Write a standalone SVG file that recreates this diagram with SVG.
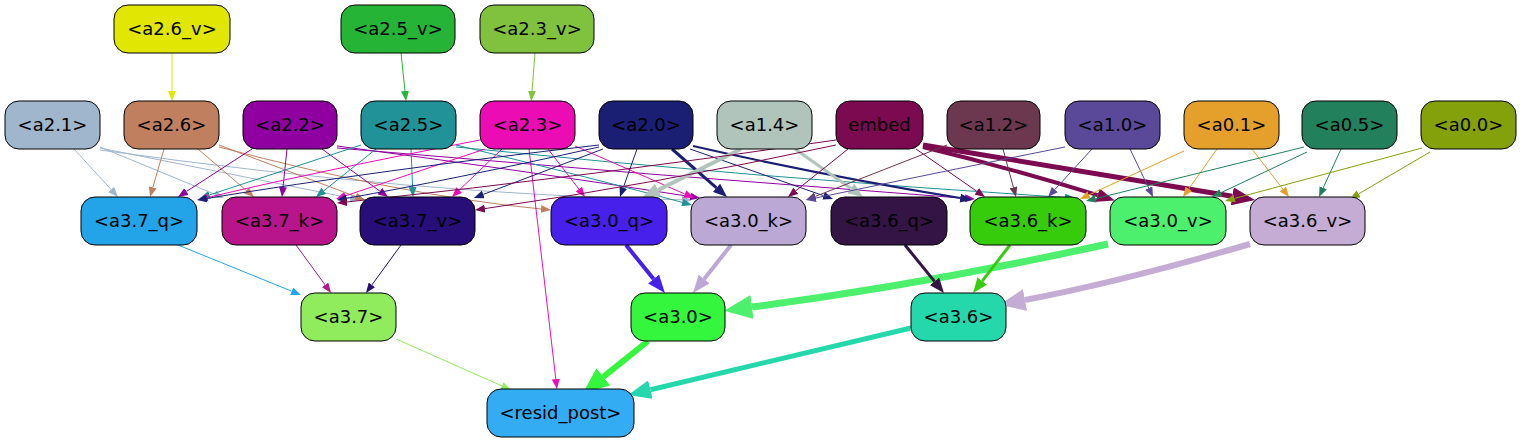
<svg xmlns="http://www.w3.org/2000/svg" width="1521" height="443" viewBox="0 0 1521 443">
<style>
.n{stroke:#000;stroke-width:1}
.t{font-family:"DejaVu Sans","Liberation Sans",sans-serif;font-size:18px;text-anchor:middle;fill:#000}
.e{fill:none}
</style>
<defs>
<marker id="s-a26v" viewBox="0 0 10 8" markerWidth="10" markerHeight="8" refX="0" refY="4" orient="auto" markerUnits="userSpaceOnUse"><path d="M0,0L10,4L0,8z" fill="#e1e602"/></marker>
<marker id="s-a25v" viewBox="0 0 10 8" markerWidth="10" markerHeight="8" refX="0" refY="4" orient="auto" markerUnits="userSpaceOnUse"><path d="M0,0L10,4L0,8z" fill="#26b436"/></marker>
<marker id="s-a23v" viewBox="0 0 10 8" markerWidth="10" markerHeight="8" refX="0" refY="4" orient="auto" markerUnits="userSpaceOnUse"><path d="M0,0L10,4L0,8z" fill="#80c23e"/></marker>
<marker id="s-a21" viewBox="0 0 10 8" markerWidth="10" markerHeight="8" refX="0" refY="4" orient="auto" markerUnits="userSpaceOnUse"><path d="M0,0L10,4L0,8z" fill="#a0b6cc"/></marker>
<marker id="s-a26" viewBox="0 0 10 8" markerWidth="10" markerHeight="8" refX="0" refY="4" orient="auto" markerUnits="userSpaceOnUse"><path d="M0,0L10,4L0,8z" fill="#c08060"/></marker>
<marker id="s-a22" viewBox="0 0 10 8" markerWidth="10" markerHeight="8" refX="0" refY="4" orient="auto" markerUnits="userSpaceOnUse"><path d="M0,0L10,4L0,8z" fill="#9000a0"/></marker>
<marker id="s-a25" viewBox="0 0 10 8" markerWidth="10" markerHeight="8" refX="0" refY="4" orient="auto" markerUnits="userSpaceOnUse"><path d="M0,0L10,4L0,8z" fill="#209298"/></marker>
<marker id="s-a23" viewBox="0 0 10 8" markerWidth="10" markerHeight="8" refX="0" refY="4" orient="auto" markerUnits="userSpaceOnUse"><path d="M0,0L10,4L0,8z" fill="#ec0cb4"/></marker>
<marker id="s-a20" viewBox="0 0 10 8" markerWidth="10" markerHeight="8" refX="0" refY="4" orient="auto" markerUnits="userSpaceOnUse"><path d="M0,0L10,4L0,8z" fill="#1a1f74"/></marker>
<marker id="s-emb" viewBox="0 0 10 8" markerWidth="10" markerHeight="8" refX="0" refY="4" orient="auto" markerUnits="userSpaceOnUse"><path d="M0,0L10,4L0,8z" fill="#7c0a50"/></marker>
<marker id="s-a12" viewBox="0 0 10 8" markerWidth="10" markerHeight="8" refX="0" refY="4" orient="auto" markerUnits="userSpaceOnUse"><path d="M0,0L10,4L0,8z" fill="#6c3850"/></marker>
<marker id="s-a10" viewBox="0 0 10 8" markerWidth="10" markerHeight="8" refX="0" refY="4" orient="auto" markerUnits="userSpaceOnUse"><path d="M0,0L10,4L0,8z" fill="#5a4898"/></marker>
<marker id="s-a01" viewBox="0 0 10 8" markerWidth="10" markerHeight="8" refX="0" refY="4" orient="auto" markerUnits="userSpaceOnUse"><path d="M0,0L10,4L0,8z" fill="#e4a02a"/></marker>
<marker id="s-a05" viewBox="0 0 10 8" markerWidth="10" markerHeight="8" refX="0" refY="4" orient="auto" markerUnits="userSpaceOnUse"><path d="M0,0L10,4L0,8z" fill="#22805c"/></marker>
<marker id="s-a00" viewBox="0 0 10 8" markerWidth="10" markerHeight="8" refX="0" refY="4" orient="auto" markerUnits="userSpaceOnUse"><path d="M0,0L10,4L0,8z" fill="#84a00a"/></marker>
<marker id="s-a37q" viewBox="0 0 10 8" markerWidth="10" markerHeight="8" refX="0" refY="4" orient="auto" markerUnits="userSpaceOnUse"><path d="M0,0L10,4L0,8z" fill="#24a4e8"/></marker>
<marker id="s-a37k" viewBox="0 0 10 8" markerWidth="10" markerHeight="8" refX="0" refY="4" orient="auto" markerUnits="userSpaceOnUse"><path d="M0,0L10,4L0,8z" fill="#b8148c"/></marker>
<marker id="s-a37v" viewBox="0 0 10 8" markerWidth="10" markerHeight="8" refX="0" refY="4" orient="auto" markerUnits="userSpaceOnUse"><path d="M0,0L10,4L0,8z" fill="#280e78"/></marker>
<marker id="s-a37" viewBox="0 0 10 8" markerWidth="10" markerHeight="8" refX="0" refY="4" orient="auto" markerUnits="userSpaceOnUse"><path d="M0,0L10,4L0,8z" fill="#90ec5c"/></marker>
<marker id="m-a20a" viewBox="0 0 14 11" markerWidth="14" markerHeight="11" refX="0" refY="5.5" orient="auto" markerUnits="userSpaceOnUse"><path d="M0,0L14,5.5L0,11z" fill="#1a1f74"/></marker>
<marker id="m-a20b" viewBox="0 0 12 9" markerWidth="12" markerHeight="9" refX="0" refY="4.5" orient="auto" markerUnits="userSpaceOnUse"><path d="M0,0L12,4.5L0,9z" fill="#1a1f74"/></marker>
<marker id="m-a14a" viewBox="0 0 18 14" markerWidth="18" markerHeight="14" refX="0" refY="7" orient="auto" markerUnits="userSpaceOnUse"><path d="M0,0L18,7L0,14z" fill="#b0c4bc"/></marker>
<marker id="m-a14b" viewBox="0 0 15 12" markerWidth="15" markerHeight="12" refX="0" refY="6" orient="auto" markerUnits="userSpaceOnUse"><path d="M0,0L15,6L0,12z" fill="#b0c4bc"/></marker>
<marker id="m-emba" viewBox="0 0 18 14" markerWidth="18" markerHeight="14" refX="0" refY="7" orient="auto" markerUnits="userSpaceOnUse"><path d="M0,0L18,7L0,14z" fill="#7c0a50"/></marker>
<marker id="m-embb" viewBox="0 0 23 18" markerWidth="23" markerHeight="18" refX="0" refY="9" orient="auto" markerUnits="userSpaceOnUse"><path d="M0,0L23,9L0,18z" fill="#7c0a50"/></marker>
<marker id="m-a30q" viewBox="0 0 18 14" markerWidth="18" markerHeight="14" refX="0" refY="7" orient="auto" markerUnits="userSpaceOnUse"><path d="M0,0L18,7L0,14z" fill="#4820ec"/></marker>
<marker id="m-a30k" viewBox="0 0 18 14" markerWidth="18" markerHeight="14" refX="0" refY="7" orient="auto" markerUnits="userSpaceOnUse"><path d="M0,0L18,7L0,14z" fill="#bca8d4"/></marker>
<marker id="m-a36q" viewBox="0 0 15 12" markerWidth="15" markerHeight="12" refX="0" refY="6" orient="auto" markerUnits="userSpaceOnUse"><path d="M0,0L15,6L0,12z" fill="#341444"/></marker>
<marker id="m-a36k" viewBox="0 0 15 12" markerWidth="15" markerHeight="12" refX="0" refY="6" orient="auto" markerUnits="userSpaceOnUse"><path d="M0,0L15,6L0,12z" fill="#36cc0c"/></marker>
<marker id="m-a30v" viewBox="0 0 28 24" markerWidth="28" markerHeight="24" refX="0" refY="12" orient="auto" markerUnits="userSpaceOnUse"><path d="M0,0L28,12L0,24z" fill="#4cf06c"/></marker>
<marker id="m-a36v" viewBox="0 0 26 22" markerWidth="26" markerHeight="22" refX="0" refY="11" orient="auto" markerUnits="userSpaceOnUse"><path d="M0,0L26,11L0,22z" fill="#c4acd4"/></marker>
<marker id="m-a30" viewBox="0 0 26 22" markerWidth="26" markerHeight="22" refX="0" refY="11" orient="auto" markerUnits="userSpaceOnUse"><path d="M0,0L26,11L0,22z" fill="#34f63c"/></marker>
<marker id="m-a36" viewBox="0 0 23 19" markerWidth="23" markerHeight="19" refX="0" refY="9.5" orient="auto" markerUnits="userSpaceOnUse"><path d="M0,0L23,9.5L0,19z" fill="#24d8ac"/></marker>
</defs>
<rect width="1521" height="443" fill="#fff"/>
<g id="edges" class="e">
<path d="M172,53L172,91" stroke="#e1e602" marker-end="url(#s-a26v)"/>
<path d="M401,53L405,91" stroke="#26b436" marker-end="url(#s-a25v)"/>
<path d="M535,53L532,91" stroke="#80c23e" marker-end="url(#s-a23v)"/>
<path d="M74,149L111.2,189.6" stroke="#a0b6cc" marker-end="url(#s-a21)"/>
<path d="M100,147L214.7,194.2" stroke="#a0b6cc" marker-end="url(#s-a21)"/>
<path d="M100,148L350.2,198" stroke="#a0b6cc" marker-end="url(#s-a21)"/>
<path d="M100,150Q420,195 682,199.8" stroke="#a0b6cc" marker-end="url(#s-a21)"/>
<path d="M164,149L152.8,187.4" stroke="#c08060" marker-end="url(#s-a26)"/>
<path d="M198,149L246.4,190.5" stroke="#c08060" marker-end="url(#s-a26)"/>
<path d="M219,145L355.6,196.5" stroke="#c08060" marker-end="url(#s-a26)"/>
<path d="M219,147Q400,195 541,209" stroke="#c08060" marker-end="url(#s-a26)"/>
<path d="M252,149L186.4,191.5" stroke="#9000a0" marker-end="url(#s-a22)"/>
<path d="M287,149L283,187" stroke="#9000a0" marker-end="url(#s-a22)"/>
<path d="M322,149L379.9,191.1" stroke="#9000a0" marker-end="url(#s-a22)"/>
<path d="M337,146Q520,170 690.1,196.5" stroke="#9000a0" marker-end="url(#s-a22)"/>
<path d="M337,148Q650,175 965,198.3" stroke="#9000a0" marker-end="url(#s-a22)"/>
<path d="M361,145L209.5,194.9" stroke="#209298" marker-end="url(#s-a25)"/>
<path d="M376,149L323.8,190.8" stroke="#209298" marker-end="url(#s-a25)"/>
<path d="M411,149L412.6,187" stroke="#209298" marker-end="url(#s-a25)"/>
<path d="M456,145Q600,180 682.3,202.4" stroke="#209298" marker-end="url(#s-a25)"/>
<path d="M456,147Q760,178 1065,197.5" stroke="#209298" marker-end="url(#s-a25)"/>
<path d="M480,140Q300,175 207.7,197.6" stroke="#ec0cb4" marker-end="url(#s-a23)"/>
<path d="M485,149L345.5,195.8" stroke="#ec0cb4" marker-end="url(#s-a23)"/>
<path d="M502,149L459.2,190.1" stroke="#ec0cb4" marker-end="url(#s-a23)"/>
<path d="M548,149L578.9,189.1" stroke="#ec0cb4" marker-end="url(#s-a23)"/>
<path d="M575,146L684.8,194" stroke="#ec0cb4" marker-end="url(#s-a23)"/>
<path d="M529,149L555.8,379.1" stroke="#ec0cb4" marker-end="url(#s-a23)"/>
<path d="M599,145Q380,170 206.9,198.4" stroke="#1a1f74" marker-end="url(#s-a20)"/>
<path d="M599,147Q450,180 346.8,198.3" stroke="#1a1f74" marker-end="url(#s-a20)"/>
<path d="M603,149L483.3,194.4" stroke="#1a1f74" marker-end="url(#s-a20)"/>
<path d="M637,149L623.3,187.6" stroke="#1a1f74" marker-end="url(#s-a20)"/>
<path d="M672,149L716.5,187.8" stroke="#1a1f74" stroke-width="3" marker-end="url(#m-a20a)"/>
<path d="M690,149L823.6,195.7" stroke="#1a1f74" marker-end="url(#s-a20)"/>
<path d="M693,146Q820,175 960.2,198.1" stroke="#1a1f74" stroke-width="2" marker-end="url(#m-a20b)"/>
<path d="M741,149L658.1,190" stroke="#b0c4bc" stroke-width="4" marker-end="url(#m-a14a)"/>
<path d="M795,149L850.7,188.3" stroke="#b0c4bc" stroke-width="3" marker-end="url(#m-a14b)"/>
<path d="M836,140Q600,175 346.9,202" stroke="#7c0a50" marker-end="url(#s-emb)"/>
<path d="M836,145Q650,185 484.9,208.6" stroke="#7c0a50" marker-end="url(#s-emb)"/>
<path d="M848,149L795.8,190.8" stroke="#7c0a50" marker-end="url(#s-emb)"/>
<path d="M916,149L976.8,191.3" stroke="#7c0a50" marker-end="url(#s-emb)"/>
<path d="M923,147Q1010,168 1097.6,195.2" stroke="#7c0a50" stroke-width="4" marker-end="url(#m-emba)"/>
<path d="M923,145Q1100,175 1232.3,196.3" stroke="#7c0a50" stroke-width="5" marker-end="url(#m-embb)"/>
<path d="M947,145L815.3,196.4" stroke="#6c3850" marker-end="url(#s-a12)"/>
<path d="M1003,149L1013.4,187.3" stroke="#6c3850" marker-end="url(#s-a12)"/>
<path d="M1065,147Q950,170 815.8,198" stroke="#5a4898" marker-end="url(#s-a10)"/>
<path d="M1092,149L1054.8,189.6" stroke="#5a4898" marker-end="url(#s-a10)"/>
<path d="M1130,149L1148.7,188" stroke="#5a4898" marker-end="url(#s-a10)"/>
<path d="M1184,151L1089.1,194.8" stroke="#e4a02a" marker-end="url(#s-a01)"/>
<path d="M1217,149L1188.8,188.8" stroke="#e4a02a" marker-end="url(#s-a01)"/>
<path d="M1252,149L1282.9,189.1" stroke="#e4a02a" marker-end="url(#s-a01)"/>
<path d="M1304,147L1095.7,198.6" stroke="#22805c" marker-end="url(#s-a05)"/>
<path d="M1307,152L1221,192.7" stroke="#22805c" marker-end="url(#s-a05)"/>
<path d="M1341,149L1323.2,187.9" stroke="#22805c" marker-end="url(#s-a05)"/>
<path d="M1422,148L1234.7,198.4" stroke="#84a00a" marker-end="url(#s-a00)"/>
<path d="M1430,152L1358.6,193.9" stroke="#84a00a" marker-end="url(#s-a00)"/>
<path d="M178,245L291.7,291.2" stroke="#24a4e8" marker-end="url(#s-a37q)"/>
<path d="M296,245L325.1,284.9" stroke="#b8148c" marker-end="url(#s-a37k)"/>
<path d="M401,245L371.9,284.9" stroke="#280e78" marker-end="url(#s-a37v)"/>
<path d="M626,245L653.6,279" stroke="#4820ec" stroke-width="4" marker-end="url(#m-a30q)"/>
<path d="M731,245L704.2,278.9" stroke="#bca8d4" stroke-width="4" marker-end="url(#m-a30k)"/>
<path d="M1108,244Q924,284.5 752,307" stroke="#4cf06c" stroke-width="7" marker-end="url(#m-a30v)"/>
<path d="M905,245L934.5,281.4" stroke="#341444" stroke-width="3" marker-end="url(#m-a36q)"/>
<path d="M1010,245L982.2,281.1" stroke="#36cc0c" stroke-width="3" marker-end="url(#m-a36k)"/>
<path d="M1250,244Q1120,282 1025,300" stroke="#c4acd4" stroke-width="6" marker-end="url(#m-a36v)"/>
<path d="M396,339L501.9,385.9" stroke="#90ec5c" marker-end="url(#s-a37)"/>
<path d="M648,341L603.3,376.8" stroke="#34f63c" stroke-width="6" marker-end="url(#m-a30)"/>
<path d="M911,328L650.4,389.7" stroke="#24d8ac" stroke-width="5" marker-end="url(#m-a36)"/>
</g>
<g id="a2.6_v"><rect class="n" x="114" y="5" width="116" height="48" rx="14" fill="#e1e602"/><text class="t" x="172" y="35">&lt;a2.6_v&gt;</text></g>
<g id="a2.5_v"><rect class="n" x="341" y="5" width="114" height="48" rx="14" fill="#26b436"/><text class="t" x="398" y="35">&lt;a2.5_v&gt;</text></g>
<g id="a2.3_v"><rect class="n" x="480" y="5" width="114" height="48" rx="14" fill="#80c23e"/><text class="t" x="537" y="35">&lt;a2.3_v&gt;</text></g>
<g id="a2.1"><rect class="n" x="5" y="101" width="95" height="48" rx="14" fill="#a0b6cc"/><text class="t" x="52.5" y="131">&lt;a2.1&gt;</text></g>
<g id="a2.6"><rect class="n" x="124" y="101" width="95" height="48" rx="14" fill="#c08060"/><text class="t" x="171.5" y="131">&lt;a2.6&gt;</text></g>
<g id="a2.2"><rect class="n" x="243" y="101" width="94" height="48" rx="14" fill="#9000a0"/><text class="t" x="290" y="131">&lt;a2.2&gt;</text></g>
<g id="a2.5"><rect class="n" x="361" y="101" width="95" height="48" rx="14" fill="#209298"/><text class="t" x="408.5" y="131">&lt;a2.5&gt;</text></g>
<g id="a2.3"><rect class="n" x="480" y="101" width="95" height="48" rx="14" fill="#ec0cb4"/><text class="t" x="527.5" y="131">&lt;a2.3&gt;</text></g>
<g id="a2.0"><rect class="n" x="599" y="101" width="94" height="48" rx="14" fill="#1a1f74"/><text class="t" x="646" y="131">&lt;a2.0&gt;</text></g>
<g id="a1.4"><rect class="n" x="717" y="101" width="95" height="48" rx="14" fill="#b0c4bc"/><text class="t" x="764.5" y="131">&lt;a1.4&gt;</text></g>
<g id="embed"><rect class="n" x="836" y="101" width="87" height="48" rx="14" fill="#7c0a50"/><text class="t" x="879.5" y="131">embed</text></g>
<g id="a1.2"><rect class="n" x="947" y="101" width="93" height="48" rx="14" fill="#6c3850"/><text class="t" x="993.5" y="131">&lt;a1.2&gt;</text></g>
<g id="a1.0"><rect class="n" x="1065" y="101" width="95" height="48" rx="14" fill="#5a4898"/><text class="t" x="1112.5" y="131">&lt;a1.0&gt;</text></g>
<g id="a0.1"><rect class="n" x="1184" y="101" width="95" height="48" rx="14" fill="#e4a02a"/><text class="t" x="1231.5" y="131">&lt;a0.1&gt;</text></g>
<g id="a0.5"><rect class="n" x="1302" y="101" width="95" height="48" rx="14" fill="#22805c"/><text class="t" x="1349.5" y="131">&lt;a0.5&gt;</text></g>
<g id="a0.0"><rect class="n" x="1421" y="101" width="95" height="48" rx="14" fill="#84a00a"/><text class="t" x="1468.5" y="131">&lt;a0.0&gt;</text></g>
<g id="a3.7_q"><rect class="n" x="81" y="197" width="116" height="48" rx="14" fill="#24a4e8"/><text class="t" x="139" y="227">&lt;a3.7_q&gt;</text></g>
<g id="a3.7_k"><rect class="n" x="222" y="197" width="115" height="48" rx="14" fill="#b8148c"/><text class="t" x="279.5" y="227">&lt;a3.7_k&gt;</text></g>
<g id="a3.7_v"><rect class="n" x="360" y="197" width="115" height="48" rx="14" fill="#280e78"/><text class="t" x="417.5" y="227">&lt;a3.7_v&gt;</text></g>
<g id="a3.0_q"><rect class="n" x="551" y="197" width="116" height="48" rx="14" fill="#4820ec"/><text class="t" x="609" y="227">&lt;a3.0_q&gt;</text></g>
<g id="a3.0_k"><rect class="n" x="691" y="197" width="115" height="48" rx="14" fill="#bca8d4"/><text class="t" x="748.5" y="227">&lt;a3.0_k&gt;</text></g>
<g id="a3.6_q"><rect class="n" x="831" y="197" width="116" height="48" rx="14" fill="#341444"/><text class="t" x="889" y="227">&lt;a3.6_q&gt;</text></g>
<g id="a3.6_k"><rect class="n" x="970" y="197" width="116" height="48" rx="14" fill="#36cc0c"/><text class="t" x="1028" y="227">&lt;a3.6_k&gt;</text></g>
<g id="a3.0_v"><rect class="n" x="1110" y="197" width="116" height="48" rx="14" fill="#4cf06c"/><text class="t" x="1168" y="227">&lt;a3.0_v&gt;</text></g>
<g id="a3.6_v"><rect class="n" x="1250" y="197" width="115" height="48" rx="14" fill="#c4acd4"/><text class="t" x="1307.5" y="227">&lt;a3.6_v&gt;</text></g>
<g id="a3.7"><rect class="n" x="301" y="293" width="95" height="48" rx="14" fill="#90ec5c"/><text class="t" x="348.5" y="323">&lt;a3.7&gt;</text></g>
<g id="a3.0"><rect class="n" x="631" y="293" width="94" height="48" rx="14" fill="#34f63c"/><text class="t" x="678" y="323">&lt;a3.0&gt;</text></g>
<g id="a3.6"><rect class="n" x="911" y="293" width="95" height="48" rx="14" fill="#24d8ac"/><text class="t" x="958.5" y="323">&lt;a3.6&gt;</text></g>
<g id="resid_post"><rect class="n" x="487" y="389" width="147" height="48" rx="14" fill="#34acf4"/><text class="t" x="560.5" y="419">&lt;resid_post&gt;</text></g>
</svg>
